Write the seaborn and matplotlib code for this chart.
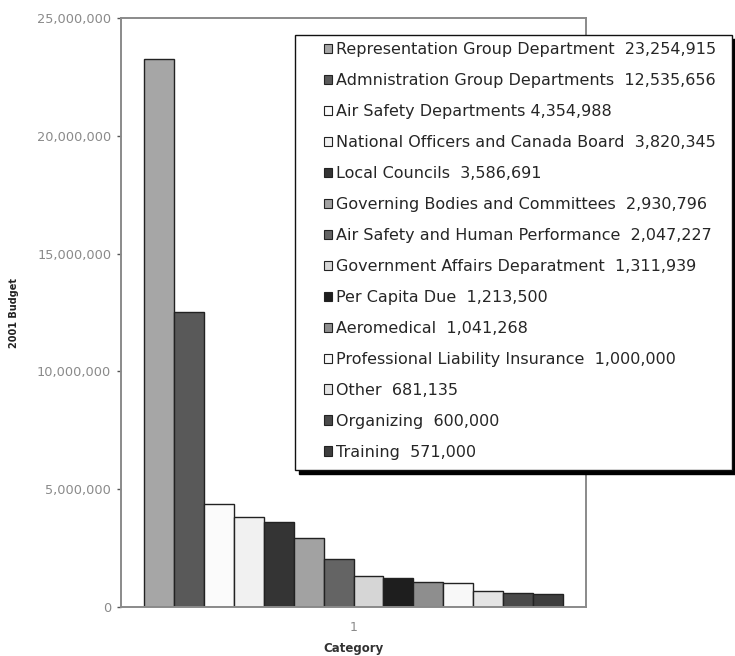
import matplotlib
matplotlib.use("Agg")
import matplotlib.pyplot as plt
import matplotlib.patches as mpatches
from matplotlib.ticker import FuncFormatter, MultipleLocator
import seaborn as sns
import pandas as pd

departments = [
    "Representation Group Department",
    "Admnistration Group Departments",
    "Air Safety Departments",
    "National Officers and Canada Board",
    "Local Councils",
    "Governing Bodies and Committees",
    "Air Safety and Human Performance",
    "Government Affairs Deparatment",
    "Per Capita Due",
    "Aeromedical",
    "Professional Liability Insurance",
    "Other",
    "Organizing",
    "Training",
]
budget = [23254915, 12535656, 4354988, 3820345, 3586691, 2930796, 2047227,
          1311939, 1213500, 1041268, 1000000, 681135, 600000, 571000]
label_gap = [" ", " ", "", " ", " ", " ", " ", " ", " ", " ", " ", " ", " ", " "]
shades = ["#a6a6a6", "#595959", "#fbfbfb", "#f1f1f1", "#343434", "#a2a2a2",
          "#646464", "#d6d6d6", "#1e1e1e", "#8e8e8e", "#f8f8f8", "#e4e4e4",
          "#4a4a4a", "#3e3e3e"]
category = ["1"] * len(departments)

df = pd.DataFrame({"Category": category, "Department": departments,
                   "Budget": budget})

sns.set_theme(style="white")
plt.rcParams["font.family"] = ["DejaVu Sans"]

W, H = 735, 656
fig = plt.figure(figsize=(W / 100, H / 100), dpi=100)
ax = fig.add_axes([121 / W, 1 - 607 / H, 465 / W, 589 / H])

sns.barplot(data=df, x="Category", y="Budget", hue="Department",
            hue_order=departments, palette=shades, width=0.9,
            edgecolor="#222222", linewidth=1.0, saturation=1, ax=ax,
            legend=False)

ax.set_ylim(0, 25000000)
ax.set_xlim(-0.5, 0.5)
ax.yaxis.set_major_locator(MultipleLocator(5000000))
ax.yaxis.set_major_formatter(FuncFormatter(lambda v, p: f"{int(v):,}"))

for s in ax.spines.values():
    s.set_color("#8a8a8a")
    s.set_linewidth(1.4)
    s.set_visible(True)

ax.tick_params(axis="y", which="major", direction="out", length=3, width=1,
               color="#555555", labelsize=9.3, labelcolor="#8a8a8a", pad=4,
               left=True)
ax.tick_params(axis="x", which="major", direction="out", length=0,
               labelsize=9, labelcolor="#8a8a8a", pad=10)

ax.set_xlabel("Category", fontsize=8.5, fontweight="bold", color="#333333",
              labelpad=6)
ax.set_ylabel("2001 Budget", fontsize=7, fontweight="bold", color="#222222",
              labelpad=13)

# Legend box with a solid drop shadow, drawn in figure pixels
def fig_rect(x0, y0, x1, y1, **kw):
    return mpatches.Rectangle((x0 / W, 1 - y1 / H), (x1 - x0) / W,
                              (y1 - y0) / H, transform=fig.transFigure, **kw)

fig.patches.append(fig_rect(299, 39, 736, 474, facecolor="black",
                            edgecolor="black", zorder=5))
fig.patches.append(fig_rect(295, 35, 732, 470, facecolor="white",
                            edgecolor="#111111", linewidth=1.0, zorder=6))

handles = [mpatches.Patch(facecolor=c, edgecolor="#222222", linewidth=0.8)
           for c in shades]
labels = [f"{d} {g}{v:,}" for d, g, v in zip(departments, label_gap, budget)]
leg = fig.legend(handles, labels, loc="upper left",
                 bbox_to_anchor=(324 / W, 1 - 42 / H),
                 frameon=False, fontsize=11.5,
                 handlelength=0.5, handleheight=0.5, handletextpad=0.25,
                 labelspacing=1.0, borderpad=0, borderaxespad=0,
                 labelcolor="#262626")
leg.set_zorder(7)

fig.savefig("out.png", dpi=100, facecolor="white")
